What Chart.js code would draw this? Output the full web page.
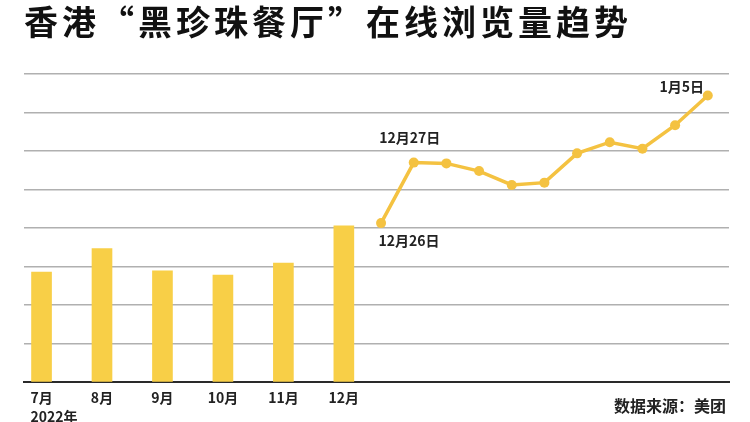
<!DOCTYPE html>
<html>
<head>
<meta charset="utf-8">
<script src="https://cdn.jsdelivr.net/npm/chart.js@4"></script>
<style>
  html, body { margin: 0; padding: 0; background: #fff; }
  #wrap { width: 750px; height: 422px; }
</style>
</head>
<body>
<div id="wrap"><canvas id="chart" width="750" height="422"></canvas></div>
<script>
// monthly average (2022) and daily views, in grid units
const months = ['7月', '8月', '9月', '10月', '11月', '12月'];
const monthlyViews = [2.86, 3.47, 2.89, 2.78, 3.09, 4.06];
const days = ['12月26日', '12月27日', '12月28日', '12月29日', '12月30日', '12月31日',
              '1月1日', '1月2日', '1月3日', '1月4日', '1月5日'];
const dailyViews = [4.13, 5.70, 5.68, 5.48, 5.12, 5.18, 5.94, 6.23, 6.06, 6.67, 7.44];
const labelledDays = [0, 1, 10];
const titleText = '香港“黑珍珠餐厅”在线浏览量趋势';
const yearLabel = '2022年';
const sourceText = '数据来源：美团';

const FONT = "'Noto Sans CJK SC', 'Noto Sans', sans-serif";
const BAR_COLOR = '#F8CF47';
const LINE_COLOR = '#F4C241';

// title (needs letter spacing), point labels, year + source notes
const notes = {
  id: 'notes',
  afterDraw(chart) {
    const ctx = chart.ctx;
    const meta = chart.getDatasetMeta(1);
    ctx.save();
    ctx.fillStyle = '#111';
    ctx.font = 'bold 34px ' + FONT;
    ctx.letterSpacing = '4px';
    ctx.textAlign = 'left';
    ctx.textBaseline = 'middle';
    ctx.fillText(titleText, 24, 22);
    ctx.letterSpacing = '0px';

    ctx.font = 'bold 14px ' + FONT;
    ctx.fillStyle = '#222';
    ctx.textAlign = 'center';
    labelledDays.forEach(function(i) {
      const p = meta.data[i];
      if (i === 0) ctx.fillText(days[i], p.x + 28, p.y + 18);
      else if (i === labelledDays[labelledDays.length - 1]) ctx.fillText(days[i], p.x - 26, p.y - 9);
      else ctx.fillText(days[i], p.x - 4, p.y - 25);
    });
    // year under the first month label
    const xs = chart.scales.x;
    const x0 = xs.getPixelForValue(0);
    ctx.textAlign = 'left';
    const w = ctx.measureText(months[0]).width;
    ctx.fillText(yearLabel, x0 - w / 2, 417);
    // source
    ctx.font = 'bold 16px ' + FONT;
    ctx.textAlign = 'right';
    ctx.fillText(sourceText, 726, 406);
    ctx.restore();
  }
};

new Chart(document.getElementById('chart'), {
  type: 'bar',
  data: {
    datasets: [{
      type: 'bar',
      data: monthlyViews.map(function(v, i) { return {x: i, y: v}; }),
      backgroundColor: BAR_COLOR,
      grouped: false,
      barThickness: 20,
      maxBarThickness: 20,
      xAxisID: 'x',
      order: 2
    }, {
      type: 'line',
      data: dailyViews.map(function(v, i) { return {x: i, y: v}; }),
      borderColor: LINE_COLOR,
      backgroundColor: LINE_COLOR,
      borderWidth: 3.5,
      pointRadius: 5,
      pointHoverRadius: 5,
      pointBorderWidth: 0,
      tension: 0,
      xAxisID: 'x2',
      order: 1
    }]
  },
  options: {
    responsive: false,
    animation: false,
    layout: { padding: { left: 24, right: 21, top: 74, bottom: 9 } },
    plugins: {
      legend: { display: false },
      tooltip: { enabled: false },
      title: { display: false }
    },
    scales: {
      x: {
        type: 'linear',
        offset: false,
        min: -0.29,
        max: 11.37,
        grid: { display: false, drawTicks: false, offset: false },
        border: { display: true, color: '#2a2a2a', width: 2 },
        afterBuildTicks: function(scale) {
          scale.ticks = months.map(function(m, i) { return {value: i}; });
        },
        ticks: {
          autoSkip: false,
          maxRotation: 0,
          padding: 7,
          color: '#222',
          font: { family: FONT, size: 14, weight: 'bold' },
          callback: function(v) { return months[v]; }
        }
      },
      x2: {
        type: 'linear',
        display: false,
        offset: false,
        min: -10.93,
        max: 10.65
      },
      y: {
        min: 0,
        max: 8,
        ticks: { display: false, stepSize: 1 },
        grid: { color: '#b0b0b0', lineWidth: 1.5, drawTicks: false },
        border: { display: false }
      }
    }
  },
  plugins: [notes]
});
</script>
</body>
</html>
